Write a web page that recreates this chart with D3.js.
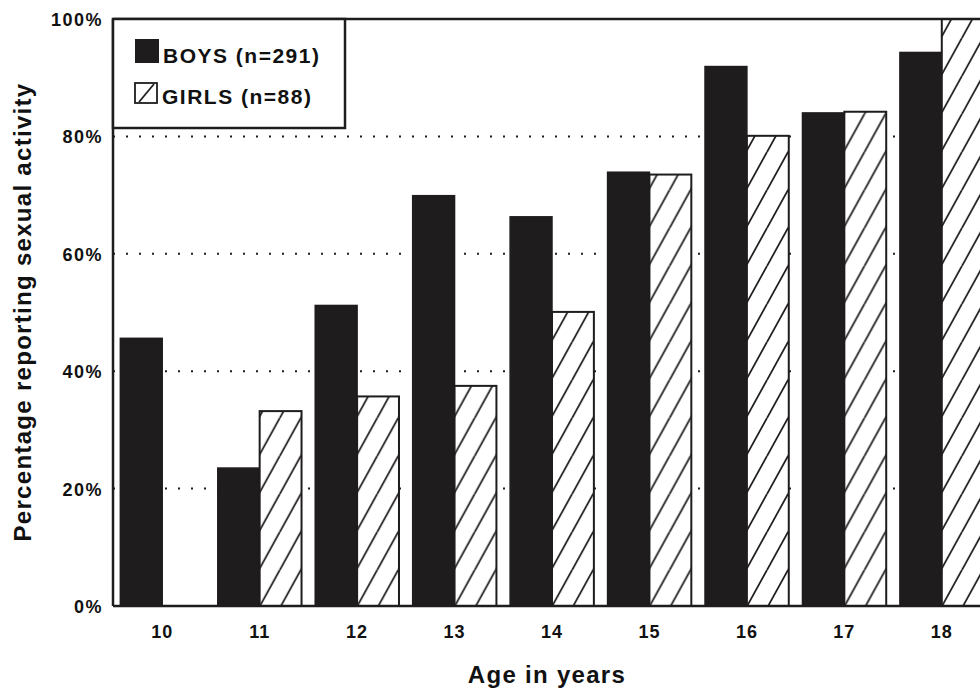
<!DOCTYPE html>
<html>
<head>
<meta charset="utf-8">
<script src="https://cdn.jsdelivr.net/npm/d3@7"></script>
<style>
  html, body { margin: 0; padding: 0; background: #fff; }
  svg { display: block; }
  text { font-family: "Liberation Sans", Arial, Helvetica, sans-serif; font-weight: bold; fill: #111; }
</style>
</head>
<body>
<svg id="chart" width="980" height="688"></svg>
<script>
const ages = ["10", "11", "12", "13", "14", "15", "16", "17", "18"];
const boys = [45.6, 23.5, 51.2, 69.9, 66.3, 73.9, 91.9, 84.0, 94.3];
const girls = [0, 33.2, 35.7, 37.5, 50.1, 73.5, 80.1, 84.2, 100];
const yTicks = [0, 20, 40, 60, 80, 100];
const seriesNames = ["BOYS (n=291)", "GIRLS (n=88)"];
const xTitle = "Age in years";
const yTitle = "Percentage reporting sexual activity";

(function () {
const svg = d3.select("#chart");
const W = 980, H = 688;
const pLeft = 113, pTop = 19, pBottom = 606, pRight = 991;
const ink = "#1f1c1d";

// hatch pattern
const defs = svg.append("defs");
const pw = 21, ph = 38;
const pat = defs.append("pattern")
  .attr("id", "hatch")
  .attr("patternUnits", "userSpaceOnUse")
  .attr("width", pw).attr("height", ph);
pat.append("rect").attr("width", pw).attr("height", ph).attr("fill", "#fff");
pat.append("path")
  .attr("d", `M0,${ph} L${pw},0 M${-pw/2},${ph/2} L0,0 M${pw},${ph} L${pw*1.5},${ph/2}`)
  .attr("stroke", ink).attr("stroke-width", 1.8).attr("fill", "none");

const x0 = d3.scaleBand().domain(ages).range([pLeft, pRight]).paddingInner(0.12).paddingOuter(0.065);
const x1 = d3.scaleBand().domain(["boys", "girls"]).range([0, x0.bandwidth()]);
const y = d3.scaleLinear().domain([0, 100]).range([pBottom, pTop]);

// dotted gridlines
svg.append("g").selectAll("line")
  .data(yTicks.filter(t => t > 0 && t < 100))
  .join("line")
  .attr("x1", pLeft).attr("x2", W)
  .attr("y1", d => y(d)).attr("y2", d => y(d))
  .attr("stroke", ink).attr("stroke-width", 2)
  .attr("stroke-dasharray", "2,11");

// bars
const groups = svg.append("g").selectAll("g")
  .data(ages)
  .join("g")
  .attr("transform", d => `translate(${x0(d)},0)`);

groups.append("rect")
  .attr("x", x1("boys") + 1)
  .attr("width", x1.bandwidth() - 1)
  .attr("y", (d, i) => y(boys[i]))
  .attr("height", (d, i) => pBottom - y(boys[i]))
  .attr("fill", ink).attr("stroke", ink).attr("stroke-width", 1.5);

groups.filter((d, i) => girls[i] > 0).append("rect")
  .attr("x", x1("girls"))
  .attr("width", x1.bandwidth() - 1)
  .attr("y", d => y(girls[ages.indexOf(d)]))
  .attr("height", d => pBottom - y(girls[ages.indexOf(d)]))
  .attr("fill", "url(#hatch)").attr("stroke", ink).attr("stroke-width", 2);

// frame: left axis, bottom, top
svg.append("line").attr("x1", pLeft).attr("x2", pLeft).attr("y1", pTop).attr("y2", pBottom)
  .attr("stroke", ink).attr("stroke-width", 2.5);
svg.append("line").attr("x1", pLeft).attr("x2", W).attr("y1", pBottom).attr("y2", pBottom)
  .attr("stroke", ink).attr("stroke-width", 2.5);
svg.append("line").attr("x1", pLeft).attr("x2", W).attr("y1", pTop).attr("y2", pTop)
  .attr("stroke", ink).attr("stroke-width", 2.5);

// y axis labels
const yAxis = d3.axisLeft(y).tickValues(yTicks).tickFormat(d => d + "%").tickSize(0).tickPadding(10);
const ya = svg.append("g").attr("transform", `translate(${pLeft},0)`).call(yAxis);
ya.select(".domain").remove();
ya.selectAll("text")
  .attr("font-size", 18).attr("letter-spacing", 1.5)
  .attr("font-family", null).attr("fill", null)
  .attr("dy", "0.36em");

// x axis labels
const xAxis = d3.axisBottom(x0).tickSize(0).tickPadding(19);
const xa = svg.append("g").attr("transform", `translate(0,${pBottom})`).call(xAxis);
xa.select(".domain").remove();
xa.selectAll("text")
  .attr("font-size", 18).attr("letter-spacing", 1)
  .attr("font-family", null).attr("fill", null);

// titles
svg.append("text")
  .attr("x", 547).attr("y", 683)
  .attr("text-anchor", "middle")
  .attr("font-size", 24).attr("letter-spacing", 1.3)
  .text(xTitle);

svg.append("text")
  .attr("transform", "translate(31,312) rotate(-90)")
  .attr("text-anchor", "middle")
  .attr("font-size", 24).attr("letter-spacing", 1.3)
  .text(yTitle);

// legend
const lg = svg.append("g");
lg.append("rect").attr("x", pLeft).attr("y", pTop).attr("width", 232).attr("height", 109)
  .attr("fill", "#fff").attr("stroke", ink).attr("stroke-width", 2.5);
lg.append("rect").attr("x", 135).attr("y", 39).attr("width", 24).attr("height", 24)
  .attr("fill", ink);
lg.append("text").attr("x", 163).attr("y", 63)
  .attr("font-size", 21).attr("letter-spacing", 1.5).text(seriesNames[0]);
lg.append("rect").attr("x", 135).attr("y", 83).attr("width", 22).attr("height", 20)
  .attr("fill", "#fff").attr("stroke", ink).attr("stroke-width", 1.8);
lg.append("line").attr("x1", 139).attr("y1", 102).attr("x2", 154).attr("y2", 84)
  .attr("stroke", ink).attr("stroke-width", 1.8);
lg.append("text").attr("x", 162).attr("y", 104)
  .attr("font-size", 21).attr("letter-spacing", 1.5).text(seriesNames[1]);
})();
</script>
</body>
</html>
